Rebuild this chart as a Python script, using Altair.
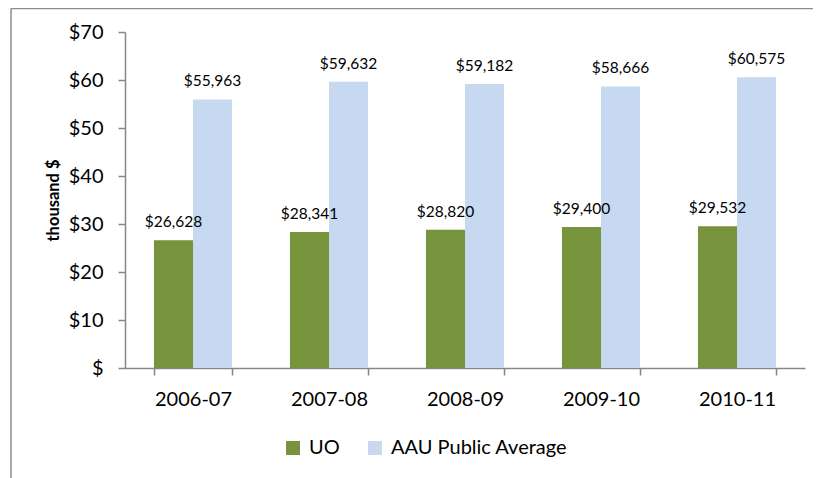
import altair as alt
import pandas as pd

years = ["2006-07", "2007-08", "2008-09", "2009-10", "2010-11"]
uo = [26628, 28341, 28820, 29400, 29532]
aau = [55963, 59632, 59182, 58666, 60575]
series = ["UO", "AAU Public Average"]
colors = ["#77933C", "#C6D9F1"]

rows = []
for i, y in enumerate(years):
    rows.append({"year": y, "series": series[0], "value": uo[i]})
    rows.append({"year": y, "series": series[1], "value": aau[i]})
df = pd.DataFrame(rows)

FONT = "Lato"
AX = "#868686"

x = alt.X("year:N", sort=years,
          scale=alt.Scale(paddingInner=0.426, paddingOuter=0.213),
          axis=alt.Axis(title=None, labelAngle=0, labelFontSize=20, labelColor="#000000",
                        labelFont=FONT, ticks=True, tickBand="extent", tickSize=7, tickColor=AX,
                        tickWidth=1.5, domain=True, domainColor=AX, domainWidth=1.5,
                        labelPadding=14))
xo = alt.XOffset("series:N", sort=series, scale=alt.Scale(paddingInner=0, paddingOuter=0))
y = alt.Y("value:Q", scale=alt.Scale(domain=[0, 70000], nice=False),
          axis=alt.Axis(title="thousand $", values=[0, 10000, 20000, 30000, 40000, 50000, 60000, 70000],
                        labelExpr="datum.value == 0 ? '$' : '$' + (datum.value / 1000)",
                        labelFontSize=20, labelFont=FONT, labelColor="#000000", labelPadding=15,
                        ticks=True, tickSize=7, tickColor=AX, tickWidth=1.5,
                        domain=True, domainColor=AX, domainWidth=1.5, grid=False,
                        titleFont=FONT, titleFontSize=16.5, titleFontWeight="bold",
                        titleColor="#000000", titlePadding=7))

bars = alt.Chart(df).mark_bar().encode(
    x=x, xOffset=xo, y=y,
    color=alt.Color("series:N", sort=series, scale=alt.Scale(domain=series, range=colors),
                    legend=alt.Legend(title=None, orient="none", legendX=158, legendY=406,
                                      direction="horizontal", symbolType="square", symbolSize=196,
                                      symbolStrokeWidth=0, labelFontSize=20, labelFont=FONT,
                                      labelColor="#000000", columnPadding=25, labelOffset=6,
                                      labelLimit=400, padding=0)),
)

labels = alt.Chart(df).transform_calculate(
    lab="'$' + format(datum.value, ',')"
).mark_text(baseline="alphabetic", dy=-13, fontSize=15.5, font=FONT, color="#000000").encode(
    x=x, xOffset=xo, y=y, text="lab:N"
)

frame_v = alt.Chart(pd.DataFrame({"a": [0]})).mark_rule(color="#8c8c8c", strokeWidth=1.5).encode(
    x=alt.value(-114), y=alt.value(-23.5), y2=alt.value(470))
frame_h = alt.Chart(pd.DataFrame({"a": [0]})).mark_rule(color="#8c8c8c", strokeWidth=1.5).encode(
    x=alt.value(-114), x2=alt.value(700), y=alt.value(-23.5))

chart = alt.layer(bars, labels, frame_v, frame_h).properties(
    width=680, height=336,
    autosize=alt.AutoSizeParams(type="none"),
    padding={"left": 117, "top": 24, "right": 8, "bottom": 110},
).configure_view(stroke=None)

chart.save("out.html", embed_options={"renderer": "svg", "actions": False})
